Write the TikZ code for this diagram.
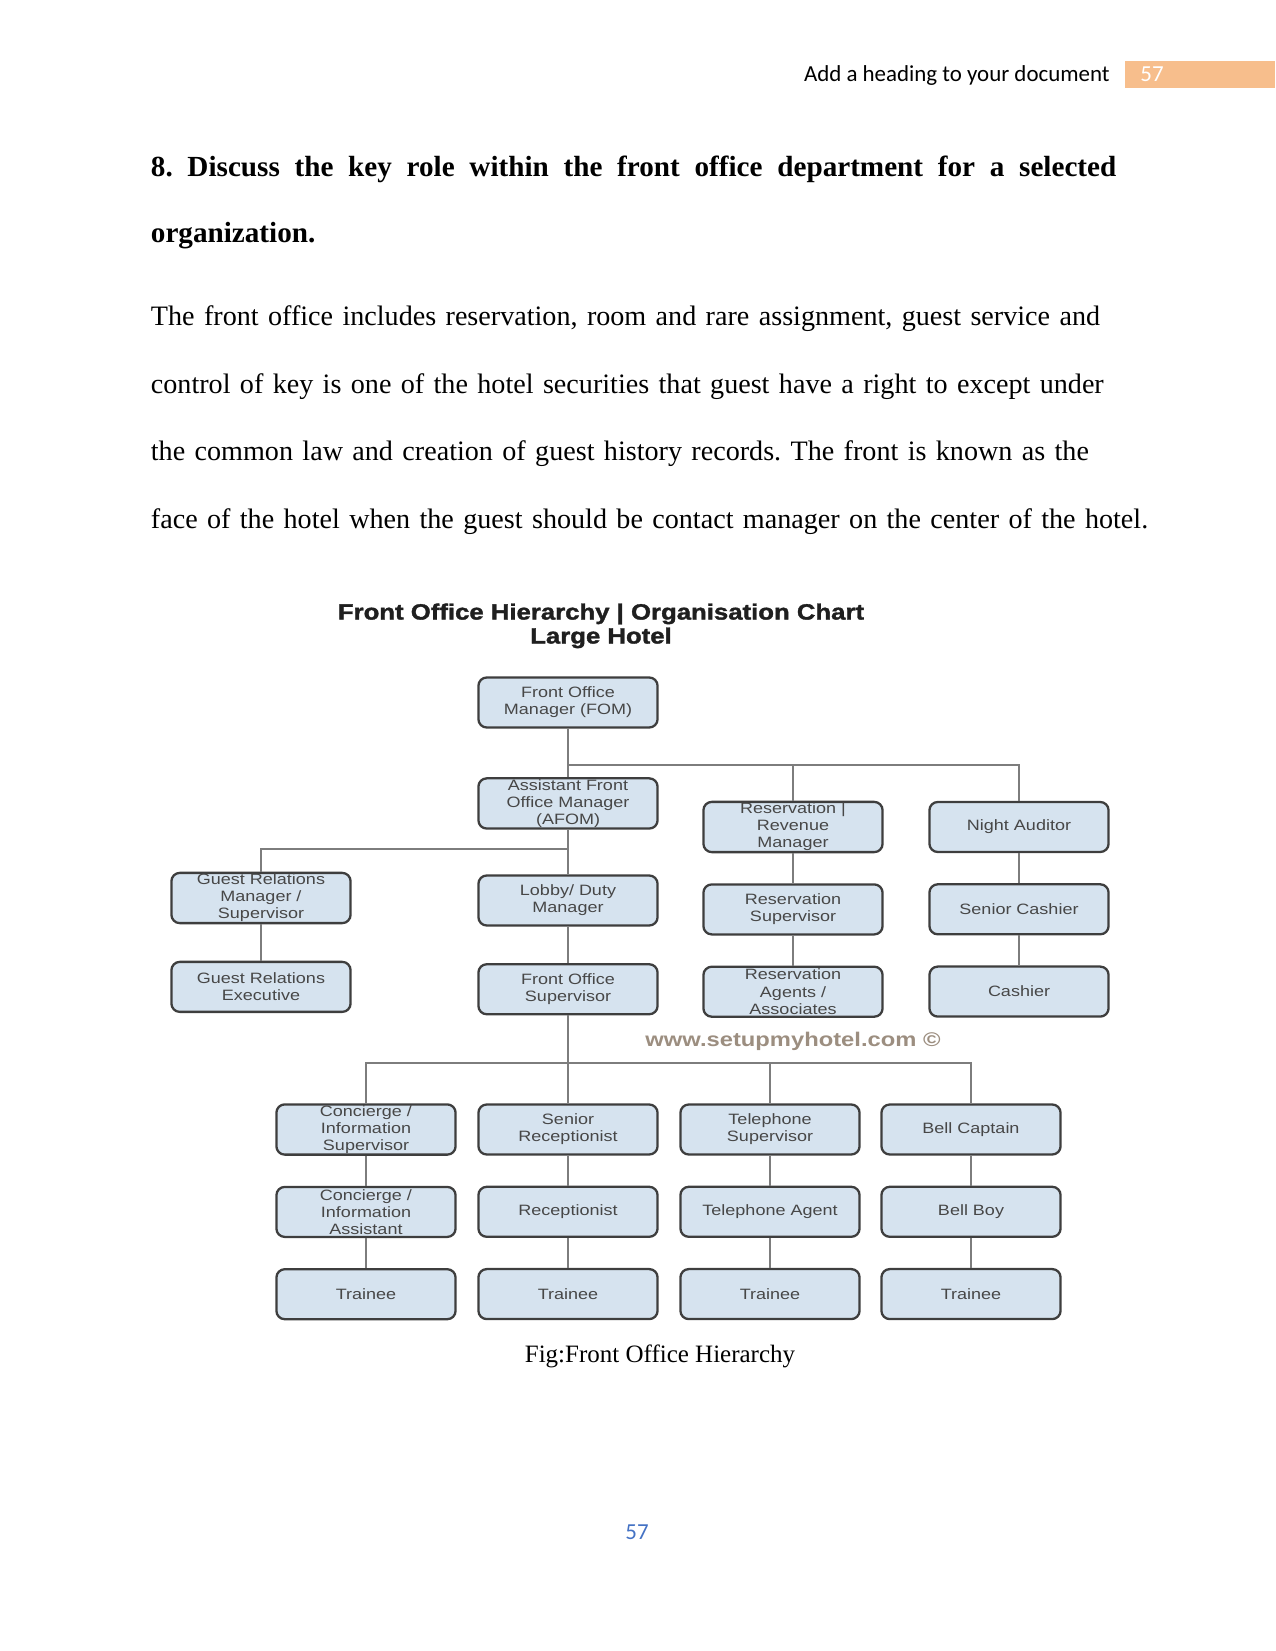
\documentclass[tikz,border=0pt]{standalone}
\usepackage{fontspec}
\setmainfont{Liberation Serif}
\newfontfamily\boxfont[FakeStretch=1.2]{Liberation Sans}
\newfontfamily\charttitlefont[FakeStretch=1.165, FakeBold=1.6]{Liberation Sans Bold}
\newfontfamily\wordfont{Carlito}
\usetikzlibrary{positioning}
\frenchspacing

\definecolor{boxfill}{RGB}{214,227,239}
\definecolor{boxline}{RGB}{62,62,62}
\definecolor{linkgray}{RGB}{125,125,125}
\definecolor{headorange}{RGB}{247,190,140}
\definecolor{pageblue}{RGB}{68,114,196}
\definecolor{markgray}{RGB}{156,142,128}

\begin{document}
\begin{tikzpicture}[
    x=0.48pt, y=-0.48pt,
    org_box/.style={rectangle, rounded corners=4pt, draw=boxline, line width=1.1pt, fill=boxfill, minimum width=86pt, minimum height=24pt, inner sep=0.5pt, align=center, text=black!72, font=\boxfont\fontsize{7.2}{8.2}\selectfont},
    org_link/.style={draw=linkgray, line width=0.7pt},
    page_text/.style={inner sep=0pt, anchor=base west},
    node distance=14.4pt
  ]
    \useasboundingbox (0,0) rectangle (1275,1651);

    \fill[headorange] (1125,61) rectangle (1275,88);
    \node[page_text, anchor=base east, font=\wordfont\fontsize{11}{13}\selectfont] (head_title) at (1110,81.7) {Add a heading to your document};
    \node[page_text, text=white, font=\wordfont\fontsize{11}{13}\selectfont] (head_num) at (1140,81.7) {57};

    \node[page_text, text width=463.4pt, align=justify, font=\bfseries\fontsize{14}{31.8}\selectfont] (question) at (150.5,176.7)
      {8. Discuss the key role within the front office department for a selected\linebreak organization.};
    \node[page_text, text width=540pt, align=left, font=\fontsize{13.5}{32.4}\selectfont] (intro) at (150.5,325.5)
      {The front office includes reservation, room and rare assignment, guest service and\\
       control of key is one of the hotel securities that guest have a right to except under\\
       the common law and creation of guest history records. The front is known as the\\
       face of the hotel when the guest should be contact manager on the center of the hotel.};

    \node[inner sep=0pt, anchor=base, align=center, text=black!88, font=\charttitlefont\fontsize{10.6}{11.5}\selectfont] (chart_title) at (601,643.5)
      {Front Office Hierarchy | Organisation Chart\\Large Hotel};

    \node[org_box] (fom) at (568,702.5) {Front Office\\Manager (FOM)};
    \node[org_box, below=23.3pt of fom] (afom) {Assistant Front\\Office Manager\\(AFOM)};

    \node[org_box] (res_mgr) at (793,827) {Reservation |\\Revenue\\Manager};
    \node[org_box, below=of res_mgr] (res_sup) {Reservation\\Supervisor};
    \node[org_box, below=of res_sup] (res_agent) {Reservation\\Agents /\\Associates};

    \node[org_box] (night_aud) at (1019,827) {Night Auditor};
    \node[org_box, below=of night_aud] (sen_cash) {Senior Cashier};
    \node[org_box, below=of sen_cash] (cashier) {Cashier};

    \node[org_box] (gr_mgr) at (261,898) {Guest Relations\\Manager /\\Supervisor};
    \node[org_box, below=17.5pt of gr_mgr] (gr_exec) {Guest Relations\\Executive};

    \node[org_box] (lobby) at (568,900.5) {Lobby/ Duty\\Manager};
    \node[org_box, below=17.5pt of lobby] (fo_sup) {Front Office\\Supervisor};

    \node[inner sep=0pt, anchor=base, text=markgray, font=\boxfont\bfseries\fontsize{9.5}{11}\selectfont] (site_mark) at (793,1046.5) {www.setupmyhotel.com \textcopyright};

    \node[org_box] (con_sup) at (366,1129.5) {Concierge /\\Information\\Supervisor};
    \node[org_box, below=of con_sup] (con_asst) {Concierge /\\Information\\Assistant};
    \node[org_box, below=of con_asst] (con_trainee) {Trainee};

    \node[org_box] (sen_rec) at (568,1129.5) {Senior\\Receptionist};
    \node[org_box, below=of sen_rec] (recep) {Receptionist};
    \node[org_box, below=of recep] (rec_trainee) {Trainee};

    \node[org_box] (tel_sup) at (770,1129.5) {Telephone\\Supervisor};
    \node[org_box, below=of tel_sup] (tel_agent) {Telephone Agent};
    \node[org_box, below=of tel_agent] (tel_trainee) {Trainee};

    \node[org_box] (bell_cap) at (971,1129.5) {Bell Captain};
    \node[org_box, below=of bell_cap] (bell_boy) {Bell Boy};
    \node[org_box, below=of bell_boy] (bell_trainee) {Trainee};

    \coordinate (top_bus) at (568,765);
    \coordinate (mid_bus) at (568,849);
    \coordinate (low_bus) at (568,1063);

    \draw[org_link] (fom) -- (afom);
    \draw[org_link] (top_bus) -| (res_mgr);
    \draw[org_link] (top_bus) -| (night_aud);
    \draw[org_link] (res_mgr) -- (res_sup);
    \draw[org_link] (res_sup) -- (res_agent);
    \draw[org_link] (night_aud) -- (sen_cash);
    \draw[org_link] (sen_cash) -- (cashier);

    \draw[org_link] (afom) -- (lobby);
    \draw[org_link] (mid_bus) -| (gr_mgr);
    \draw[org_link] (gr_mgr) -- (gr_exec);
    \draw[org_link] (lobby) -- (fo_sup);

    \draw[org_link] (fo_sup) -- (sen_rec);
    \draw[org_link] (low_bus) -| (con_sup);
    \draw[org_link] (low_bus) -| (tel_sup);
    \draw[org_link] (low_bus) -| (bell_cap);
    \draw[org_link] (con_sup) -- (con_asst);
    \draw[org_link] (con_asst) -- (con_trainee);
    \draw[org_link] (sen_rec) -- (recep);
    \draw[org_link] (recep) -- (rec_trainee);
    \draw[org_link] (tel_sup) -- (tel_agent);
    \draw[org_link] (tel_agent) -- (tel_trainee);
    \draw[org_link] (bell_cap) -- (bell_boy);
    \draw[org_link] (bell_boy) -- (bell_trainee);

    \node[inner sep=0pt, anchor=base, font=\fontsize{12}{14}\selectfont] (fig_caption) at (660,1362) {Fig:Front Office Hierarchy};
    \node[inner sep=0pt, anchor=base, text=pageblue, font=\wordfont\fontsize{11}{13}\selectfont] (page_num) at (637,1539) {57};
\end{tikzpicture}
\end{document}
